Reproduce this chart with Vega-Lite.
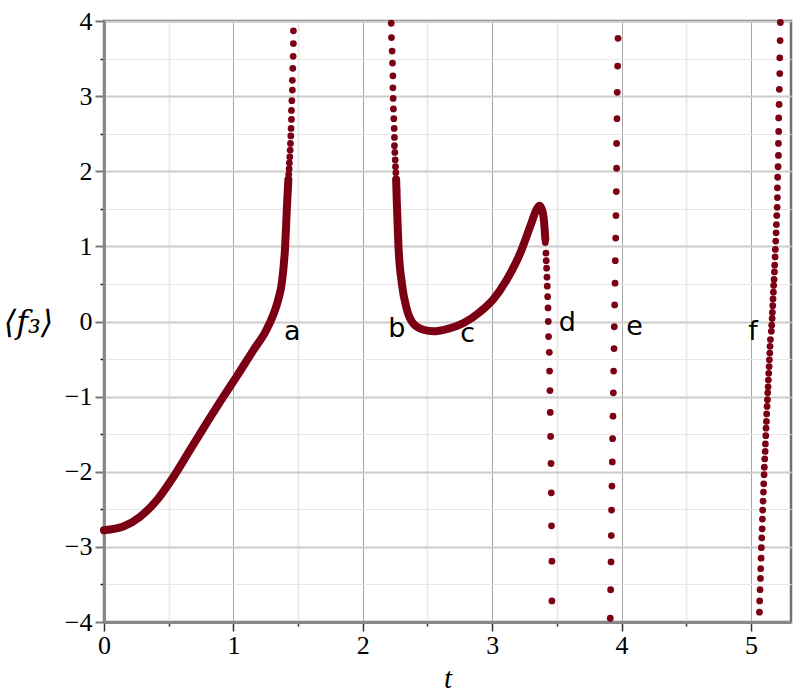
{
  "$schema": "https://vega.github.io/schema/vega-lite/v6.json",
  "width": 687,
  "height": 601,
  "autosize": {"type": "none"},
  "padding": {"left": 104, "top": 21, "right": 9, "bottom": 78},
  "background": "white",
  "config": {
    "view": {"stroke": "#707070", "strokeWidth": 2.5}
  },
  "datasets": {
    "curve": [
      {"seg": 1, "t": 0.0, "y": -2.78},
      {"seg": 1, "t": 0.149, "y": -2.73},
      {"seg": 1, "t": 0.278, "y": -2.6},
      {"seg": 1, "t": 0.408, "y": -2.38},
      {"seg": 1, "t": 0.536, "y": -2.07},
      {"seg": 1, "t": 0.665, "y": -1.71},
      {"seg": 1, "t": 0.794, "y": -1.35},
      {"seg": 1, "t": 0.923, "y": -1.0},
      {"seg": 1, "t": 1.026, "y": -0.73},
      {"seg": 1, "t": 1.155, "y": -0.38},
      {"seg": 1, "t": 1.25, "y": -0.13},
      {"seg": 1, "t": 1.309, "y": 0.09},
      {"seg": 1, "t": 1.348, "y": 0.3},
      {"seg": 1, "t": 1.374, "y": 0.51},
      {"seg": 1, "t": 1.4, "y": 1.0},
      {"seg": 1, "t": 1.413, "y": 1.49},
      {"seg": 1, "t": 1.425, "y": 1.89},
      {"seg": 2, "t": 2.258, "y": 1.89},
      {"seg": 2, "t": 2.264, "y": 1.55},
      {"seg": 2, "t": 2.276, "y": 1.0},
      {"seg": 2, "t": 2.302, "y": 0.51},
      {"seg": 2, "t": 2.341, "y": 0.16},
      {"seg": 2, "t": 2.392, "y": -0.03},
      {"seg": 2, "t": 2.469, "y": -0.11},
      {"seg": 2, "t": 2.547, "y": -0.13},
      {"seg": 2, "t": 2.65, "y": -0.1},
      {"seg": 2, "t": 2.779, "y": -0.02},
      {"seg": 2, "t": 2.908, "y": 0.13},
      {"seg": 2, "t": 3.011, "y": 0.3},
      {"seg": 2, "t": 3.114, "y": 0.56},
      {"seg": 2, "t": 3.217, "y": 0.91},
      {"seg": 2, "t": 3.295, "y": 1.27},
      {"seg": 2, "t": 3.346, "y": 1.5},
      {"seg": 2, "t": 3.367, "y": 1.54},
      {"seg": 2, "t": 3.392, "y": 1.45},
      {"seg": 2, "t": 3.405, "y": 1.25},
      {"seg": 2, "t": 3.411, "y": 1.1}
    ],
    "dots": [
      {"t": 1.418, "y": 1.68}, {"t": 1.42, "y": 1.75}, {"t": 1.423, "y": 1.82},
      {"t": 1.425, "y": 1.89}, {"t": 1.428, "y": 1.96}, {"t": 1.431, "y": 2.03},
      {"t": 1.433, "y": 2.11}, {"t": 1.436, "y": 2.19}, {"t": 1.439, "y": 2.28},
      {"t": 1.441, "y": 2.37}, {"t": 1.444, "y": 2.47}, {"t": 1.446, "y": 2.57},
      {"t": 1.449, "y": 2.69}, {"t": 1.449, "y": 2.81}, {"t": 1.452, "y": 2.94},
      {"t": 1.456, "y": 3.08}, {"t": 1.456, "y": 3.21}, {"t": 1.459, "y": 3.37},
      {"t": 1.462, "y": 3.53}, {"t": 1.464, "y": 3.7}, {"t": 1.464, "y": 3.87},
      {"t": 2.22, "y": 3.97}, {"t": 2.222, "y": 3.78}, {"t": 2.227, "y": 3.6},
      {"t": 2.23, "y": 3.44}, {"t": 2.233, "y": 3.27}, {"t": 2.233, "y": 3.11},
      {"t": 2.235, "y": 2.97}, {"t": 2.237, "y": 2.83}, {"t": 2.24, "y": 2.7},
      {"t": 2.243, "y": 2.57}, {"t": 2.245, "y": 2.45}, {"t": 2.245, "y": 2.34},
      {"t": 2.248, "y": 2.25}, {"t": 2.251, "y": 2.15}, {"t": 2.253, "y": 2.06},
      {"t": 2.256, "y": 1.98}, {"t": 2.258, "y": 1.89}, {"t": 2.261, "y": 1.81},
      {"t": 2.264, "y": 1.74},
      {"t": 3.411, "y": 1.05}, {"t": 3.416, "y": 0.91}, {"t": 3.418, "y": 0.81},
      {"t": 3.421, "y": 0.71}, {"t": 3.424, "y": 0.59}, {"t": 3.426, "y": 0.47},
      {"t": 3.429, "y": 0.33}, {"t": 3.432, "y": 0.18}, {"t": 3.434, "y": 0.0},
      {"t": 3.436, "y": -0.2}, {"t": 3.442, "y": -0.41}, {"t": 3.444, "y": -0.66},
      {"t": 3.447, "y": -0.92}, {"t": 3.449, "y": -1.21}, {"t": 3.452, "y": -1.53},
      {"t": 3.455, "y": -1.89}, {"t": 3.457, "y": -2.28}, {"t": 3.459, "y": -2.72},
      {"t": 3.462, "y": -3.19}, {"t": 3.462, "y": -3.72},
      {"t": 3.973, "y": 3.77}, {"t": 3.97, "y": 3.4}, {"t": 3.967, "y": 3.05},
      {"t": 3.965, "y": 2.7}, {"t": 3.962, "y": 2.37}, {"t": 3.962, "y": 2.04},
      {"t": 3.96, "y": 1.73}, {"t": 3.957, "y": 1.41}, {"t": 3.955, "y": 1.11},
      {"t": 3.952, "y": 0.81}, {"t": 3.95, "y": 0.51}, {"t": 3.947, "y": 0.22},
      {"t": 3.944, "y": -0.07}, {"t": 3.942, "y": -0.36}, {"t": 3.939, "y": -0.66},
      {"t": 3.937, "y": -0.95}, {"t": 3.934, "y": -1.26}, {"t": 3.931, "y": -1.56},
      {"t": 3.929, "y": -1.87}, {"t": 3.926, "y": -2.19}, {"t": 3.923, "y": -2.51},
      {"t": 3.921, "y": -2.85}, {"t": 3.919, "y": -3.2}, {"t": 3.916, "y": -3.57},
      {"t": 3.913, "y": -3.95},
      {"t": 5.228, "y": 3.98}, {"t": 5.226, "y": 3.74}, {"t": 5.223, "y": 3.51},
      {"t": 5.223, "y": 3.3}, {"t": 5.22, "y": 3.09}, {"t": 5.218, "y": 2.89},
      {"t": 5.215, "y": 2.71}, {"t": 5.215, "y": 2.53}, {"t": 5.213, "y": 2.37},
      {"t": 5.213, "y": 2.21}, {"t": 5.21, "y": 2.06}, {"t": 5.207, "y": 1.92},
      {"t": 5.205, "y": 1.78}, {"t": 5.205, "y": 1.65}, {"t": 5.203, "y": 1.52},
      {"t": 5.2, "y": 1.41}, {"t": 5.197, "y": 1.29}, {"t": 5.195, "y": 1.18},
      {"t": 5.192, "y": 1.07}, {"t": 5.189, "y": 0.96}, {"t": 5.187, "y": 0.86},
      {"t": 5.184, "y": 0.75}, {"t": 5.182, "y": 0.66}, {"t": 5.179, "y": 0.56},
      {"t": 5.176, "y": 0.48}, {"t": 5.174, "y": 0.39}, {"t": 5.171, "y": 0.3},
      {"t": 5.169, "y": 0.21}, {"t": 5.166, "y": 0.12}, {"t": 5.164, "y": 0.04},
      {"t": 5.161, "y": -0.05}, {"t": 5.158, "y": -0.13}, {"t": 5.151, "y": -0.24},
      {"t": 5.148, "y": -0.33}, {"t": 5.146, "y": -0.42}, {"t": 5.143, "y": -0.51},
      {"t": 5.141, "y": -0.6}, {"t": 5.138, "y": -0.69}, {"t": 5.135, "y": -0.78},
      {"t": 5.133, "y": -0.87}, {"t": 5.13, "y": -0.95}, {"t": 5.128, "y": -1.04},
      {"t": 5.125, "y": -1.13}, {"t": 5.122, "y": -1.23}, {"t": 5.12, "y": -1.33},
      {"t": 5.117, "y": -1.42}, {"t": 5.115, "y": -1.52}, {"t": 5.112, "y": -1.63},
      {"t": 5.11, "y": -1.73}, {"t": 5.107, "y": -1.83}, {"t": 5.104, "y": -1.94},
      {"t": 5.102, "y": -2.04}, {"t": 5.099, "y": -2.16}, {"t": 5.097, "y": -2.27},
      {"t": 5.094, "y": -2.39}, {"t": 5.091, "y": -2.51}, {"t": 5.089, "y": -2.63},
      {"t": 5.087, "y": -2.76}, {"t": 5.084, "y": -2.88}, {"t": 5.081, "y": -3.01},
      {"t": 5.079, "y": -3.15}, {"t": 5.076, "y": -3.29}, {"t": 5.074, "y": -3.42},
      {"t": 5.071, "y": -3.57}, {"t": 5.068, "y": -3.72}, {"t": 5.066, "y": -3.87}
    ],
    "labels": [
      {"label": "a", "t": 1.456, "y": -0.24},
      {"label": "b", "t": 2.263, "y": -0.2},
      {"label": "c", "t": 2.81, "y": -0.27},
      {"label": "d", "t": 3.582, "y": -0.13},
      {"label": "e", "t": 4.1, "y": -0.18},
      {"label": "f", "t": 5.017, "y": -0.24}
    ]
  },
  "encoding": {
    "x": {
      "field": "t",
      "type": "quantitative",
      "scale": {"domain": [0, 5.31], "nice": false, "zero": false},
      "axis": {
        "title": "t",
        "values": [0, 0.5, 1, 1.5, 2, 2.5, 3, 3.5, 4, 4.5, 5],
        "labelExpr": "datum.value % 1 === 0 ? format(datum.value, 'd') : ''",
        "labelFont": "Liberation Serif, Times New Roman, serif",
        "labelFontSize": 26,
        "labelColor": "#000000",
        "labelPadding": 1,
        "labelFlush": false,
        "labelOverlap": false,
        "domainColor": "#888888",
        "domainWidth": 3,
        "tickColor": "#333333",
        "tickWidth": 1.5,
        "tickSize": {"condition": {"test": "datum.value % 1 === 0", "value": 9}, "value": 4},
        "grid": true,
        "gridColor": {"condition": {"test": "datum.value % 1 === 0", "value": "#a8a8a8"}, "value": "#ececec"},
        "gridWidth": {"condition": {"test": "datum.value % 1 === 0", "value": 1}, "value": 2},
        "titleFont": "Liberation Serif, Times New Roman, serif",
        "titleFontStyle": "italic",
        "titleFontWeight": "normal",
        "titleFontSize": 29,
        "titleColor": "#000000",
        "titlePadding": 6
      }
    },
    "y": {
      "field": "y",
      "type": "quantitative",
      "scale": {"domain": [-4, 4], "nice": false, "zero": false},
      "axis": {
        "title": "⟨f₃⟩",
        "values": [-4, -3.5, -3, -2.5, -2, -1.5, -1, -0.5, 0, 0.5, 1, 1.5, 2, 2.5, 3, 3.5, 4],
        "labelExpr": "datum.value % 1 === 0 ? format(datum.value, 'd') : ''",
        "labelFont": "Liberation Serif, Times New Roman, serif",
        "labelFontSize": 26,
        "labelColor": "#000000",
        "labelPadding": 3,
        "labelFlush": false,
        "labelOverlap": false,
        "domainColor": "#888888",
        "domainWidth": 3,
        "tickColor": {"condition": {"test": "datum.value % 1 === 0", "value": "#777777"}, "value": "#222222"},
        "tickWidth": {"condition": {"test": "datum.value % 1 === 0", "value": 2}, "value": 1.5},
        "tickSize": {"condition": {"test": "datum.value % 1 === 0", "value": 9}, "value": 4},
        "grid": true,
        "gridColor": {"condition": {"test": "datum.value % 1 === 0", "value": "#cccccc"}, "value": "#e6e6e6"},
        "gridWidth": {"condition": {"test": "datum.value % 1 === 0", "value": 2}, "value": 1},
        "titleFont": "DejaVu Serif",
        "titleFontStyle": "italic",
        "titleFontWeight": "normal",
        "titleFontSize": 32,
        "titleColor": "#000000",
        "titleAngle": 0,
        "titleAlign": "center",
        "titleBaseline": "middle",
        "titleX": -76,
        "titleY": 301
      }
    }
  },
  "layer": [
    {
      "data": {"name": "curve"},
      "mark": {"type": "line", "color": "#7b0014", "strokeWidth": 8, "strokeCap": "round", "strokeJoin": "round", "interpolate": "monotone"},
      "encoding": {"detail": {"field": "seg", "type": "nominal"}}
    },
    {
      "data": {"name": "dots"},
      "mark": {"type": "point", "filled": true, "color": "#7b0014", "size": 46, "opacity": 1}
    },
    {
      "data": {"name": "labels"},
      "mark": {"type": "text", "font": "DejaVu Sans", "fontSize": 27, "color": "#000000", "align": "center", "baseline": "alphabetic"},
      "encoding": {"text": {"field": "label", "type": "nominal"}}
    }
  ]
}
